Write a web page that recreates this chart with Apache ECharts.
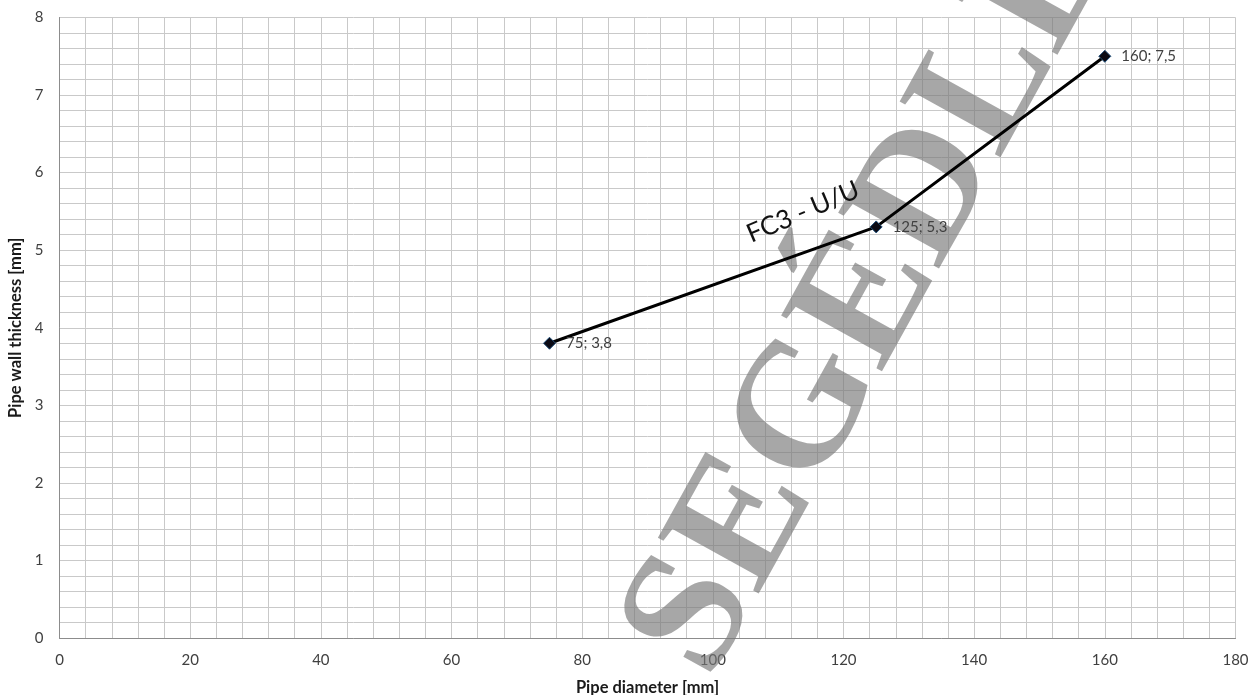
<!DOCTYPE html>
<html>
<head>
<meta charset="utf-8">
<script src="https://cdn.jsdelivr.net/npm/echarts@6/dist/echarts.min.js"></script>
<style>
html,body{margin:0;padding:0;background:#fff;}
#chart{width:1250px;height:695px;}
</style>
</head>
<body>
<div id="chart"></div>
<script>
const diameters = [75, 125, 160];
const thickness = [3.8, 5.3, 7.5];
const pointLabels = ['75; 3,8', '125; 5,3', '160; 7,5'];
const seriesName = 'FC3 - U/U';
const xTitle = 'Pipe diameter [mm]';
const yTitle = 'Pipe wall thickness [mm]';
const watermark = 'SEGÉDLET';

const chart = echarts.init(document.getElementById('chart'), null, {renderer: 'canvas'});
const font = 'Lato, "Open Sans", sans-serif';
const gridColor = '#c9c9c9';
const axisColor = '#8c8c8c';

chart.setOption({
  animation: false,
  backgroundColor: '#ffffff',
  grid: {left: 59.5, right: 14.5, top: 17.5, bottom: 57, containLabel: false, outerBoundsMode: 'none'},
  xAxis: {
    type: 'value', min: 0, max: 180, interval: 20,
    name: xTitle, nameLocation: 'middle', nameGap: 41,
    nameTextStyle: {fontFamily: font, fontWeight: 'bold', fontSize: 16.5, color: '#1a1a1a'},
    axisLine: {show: true, lineStyle: {color: axisColor, width: 1}},
    axisTick: {show: false},
    axisLabel: {fontFamily: font, fontSize: 15, color: '#404040', margin: 15},
    splitLine: {show: true, lineStyle: {color: gridColor, width: 1}},
    minorTick: {show: false, splitNumber: 5},
    minorSplitLine: {show: true, lineStyle: {color: gridColor, width: 1}}
  },
  yAxis: {
    type: 'value', min: 0, max: 8, interval: 1,
    name: yTitle, nameLocation: 'middle', nameGap: 31,
    nameTextStyle: {fontFamily: font, fontWeight: 'bold', fontSize: 16.5, color: '#1a1a1a'},
    axisLine: {show: true, lineStyle: {color: axisColor, width: 1}},
    axisTick: {show: false},
    axisLabel: {fontFamily: font, fontSize: 15, color: '#404040', margin: 16},
    splitLine: {show: true, lineStyle: {color: gridColor, width: 1}},
    minorTick: {show: false, splitNumber: 5},
    minorSplitLine: {show: true, lineStyle: {color: gridColor, width: 1}}
  },
  graphic: [
    {
      type: 'text', z: 1, x: 900, y: 245, rotation: 61 * Math.PI / 180,
      style: {
        text: watermark, fill: 'rgba(120,120,120,0.65)',
        font: 'bold 176px "Liberation Serif", "DejaVu Serif", serif',
        align: 'center', verticalAlign: 'middle'
      }
    },
    {
      type: 'text', z: 10, x: 803, y: 212, rotation: 23 * Math.PI / 180,
      style: {
        text: seriesName, fill: '#111111',
        font: '26px Lato, "Open Sans", sans-serif',
        align: 'center', verticalAlign: 'middle'
      }
    }
  ],
  series: [{
    type: 'line', name: seriesName, z: 5,
    data: diameters.map((d, i) => [d, thickness[i]]),
    symbol: 'diamond', symbolSize: 12,
    lineStyle: {color: '#000000', width: 3},
    itemStyle: {color: '#0a0a14', borderColor: '#1f4e79', borderWidth: 1},
    label: {
      show: true, position: 'right', distance: 10,
      formatter: p => pointLabels[p.dataIndex],
      fontFamily: font, fontSize: 15, color: '#404040'
    },
    emphasis: {disabled: true}
  }]
});
</script>
</body>
</html>
